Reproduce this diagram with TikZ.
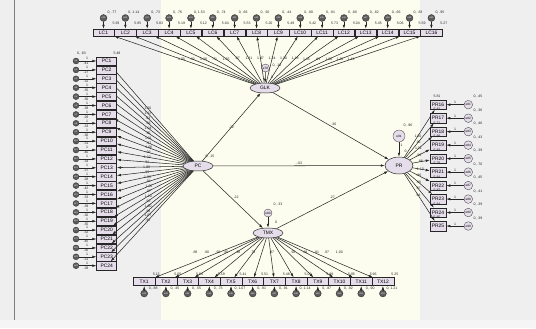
\documentclass[tikz,border=0pt]{standalone}
\usepackage{fontspec}
\setmainfont{Liberation Sans}
\usetikzlibrary{arrows.meta,positioning,calc,shapes.geometric}
\definecolor{cream}{HTML}{FDFDEF}
\definecolor{panel}{HTML}{EFEFEF}
\definecolor{lav}{HTML}{E6DDEB}
\definecolor{ink}{HTML}{262626}
\tikzset{
  obsbox/.style={draw=ink, fill=lav, line width=0.7pt, inner sep=0pt, font=\fontsize{7}{7}\selectfont},
  latent/.style={ellipse, draw=ink, fill=lav, line width=0.7pt, inner sep=0pt, minimum width=15mm, minimum height=5mm, font=\fontsize{7}{7}\selectfont},
  err/.style={circle, draw=ink, fill=ink!75, text=white, inner sep=0pt, minimum size=3.5mm, font=\fontsize{3.2}{3.2}\selectfont},
  errlight/.style={circle, draw=ink, fill=lav, inner sep=0pt, minimum size=4.3mm, font=\fontsize{4.5}{4.5}\selectfont},
  num/.style={inner sep=0pt, text=ink, font=\fontsize{5}{5}\selectfont},
  arrow/.style={-{Latex[length=2mm,width=1.3mm]}, line width=0.75pt, draw=ink},
}

\begin{document}
\begin{tikzpicture}[x=0.5mm, y=-0.5mm]
\useasboundingbox (0,0) rectangle (536,328);
% background panels
\fill[panel] (0,0) rectangle (536,328);
\fill[cream] (161,0) rectangle (420,320);
\fill[gray!8] (0,320) rectangle (536,328);
\draw[gray, line width=1.2pt] (14,0) -- (14,320);

% latent variables
\node[latent] (GLK) at (265,88) {GLK};
\node[latent] (PC) at (198,166) {PC};
\node[latent] (TMX) at (268,233) {TMX};
\node[latent, minimum width=14mm, minimum height=8.5mm] (PR) at (399,165.5) {PR};

% disturbances
\node[errlight, minimum size=4mm] (e78) at (265.5,68) {e78};
\node[errlight, minimum size=4mm] (e80) at (268,213) {e80};
\node[errlight, minimum size=6mm] (e91) at (399,136) {e91};
\draw[arrow] (e78) -- (GLK);
\draw[arrow] (e80) -- (TMX);
\draw[arrow] (e91) -- (PR);
\node[num] at (277,65) {0, .18};
\node[num] at (272,77) {0};
\node[num] at (278,204) {0, .33};
\node[num] at (276,222) {0};
\node[num] at (408,125.5) {0, .96};
\node[num] at (401.5,145.5) {1};
\node[num] at (405.5,151.5) {0};
\node[num] at (210,156.5) {0, .15};

% structural paths
\draw[arrow] (PC) -- node[num, pos=.5] {.22} (GLK);
\draw[arrow] (PC) -- node[num, pos=.5, above=1.5pt] {-.03} (PR);
\draw[arrow] (PC) -- node[num, pos=.5, above right=1pt] {.22} (TMX);
\draw[arrow] (GLK) -- node[num, pos=.5, above right=1pt] {.36} (PR);
\draw[arrow] (TMX) -- node[num, pos=.5, above=1pt] {.27} (PR);

% LC indicators
\foreach \i/\v/\m/\l [count=\k from 0] in {1/.77/5.93/1.00, 2/1.14/5.85/.92, 3/.73/5.83/1.28, 4/.76/5.19/.71,
  5/1.53/5.12/1.35, 6/.74/5.04/.97, 7/.66/5.53/1.31, 8/.92/5.20/1.47, 9/.44/5.49/1.24, 10/.80/5.42/1.30,
  11/.81/5.73/1.18, 12/.80/5.04/1.15, 13/.82/5.45/.93, 14/.66/5.06/1.06, 15/.83/5.59/1.36, 16/.95/5.27/1.42} {
  \pgfmathsetmacro\xx{103.5+21.86*\k}
  \pgfmathtruncatemacro\en{\i+24}
  \node[obsbox, minimum width=10.75mm, minimum height=3.5mm] (lc\i) at (\xx,32.5) {LC\i};
  \node[err] (elc\i) at (\xx,18) {e\en};
  \draw[arrow] (elc\i) -- (lc\i);
  \node[num] at (\xx+8.5,12.5) {0, \v};
  \node[num] at (\xx+12.5,23.5) {\m};
  \draw[arrow] (GLK) -- node[num, pos=.52] {\l} (lc\i);
}

% PC indicators
\node[num] at (81.5,53.3) {0, .83};
\node[num] at (117,53.3) {5.48};
\foreach \i/\v/\l in {1/.41/1.00, 2/.27/1.12, 3/.32/.93, 4/.35/.98, 5/.30/1.04, 6/.38/.95,
  7/.29/1.01, 8/.33/.97, 9/.36/1.06, 10/.31/.99, 11/.40/1.02, 12/.34/.94, 13/.37/1.08, 14/.28/.96,
  15/.42/1.03, 16/.33/.91, 17/.39/1.05, 18/.30/.97, 19/.35/1.10, 20/.32/.92, 21/.45/1.00,
  22/.36/.98, 23/.31/1.07, 24/.38/.95} {
  \pgfmathsetmacro\yy{61+8.9*(\i-1)}
  \node[obsbox, minimum width=10mm, minimum height=4.1mm] (pc\i) at (106.7,\yy) {PC\i};
  \node[err, minimum size=3mm] (epc\i) at (76,\yy) {e\i};
  \draw[arrow] (epc\i) -- (pc\i);
  \node[num] at (86,\yy+2.6) {\v};
  \node[num] at (87,\yy-2.4) {1};
  \draw[arrow] (PC) -- node[num, pos=.55] {\l} (pc\i);
}

% TX indicators
\foreach \i/\v/\m/\l/\lx [count=\k from 0] in {1/.88/5.13/.88/195, 2/.45/5.05/.90/206.7, 3/.55/5.64/.92/218,
  4/.73/5.59/.80/226, 5/1.07/5.41/.98/238, 6/.91/5.51/.78/253, 7/.91/5.48/.97/271.7, 8/1.14/5.09/.92/293,
  9/.87/5.89/.89/305, 10/.92/5.85/.91/316.7, 11/.90/5.96/.97/326.7, 12/1.21/5.25/1.00/339.3} {
  \pgfmathsetmacro\xx{144.2+21.7*\k}
  \pgfmathtruncatemacro\en{\i+40}
  \node[obsbox, minimum width=10.85mm, minimum height=4mm] (tx\i) at (\xx,281.7) {TX\i};
  \node[err] (etx\i) at (\xx,293.5) {e\en};
  \draw[arrow] (etx\i) -- (tx\i);
  \node[num] at (\xx+9,288.5) {0, \v};
  \node[num] at (\xx+12,274) {\m};
  \draw[arrow] (TMX) -- (tx\i);
  \node[num] at (\lx,252) {\l};
}

% PR indicators
\foreach \i/\v/\m/\l [count=\k from 0] in {16/.45/5.81/1.00, 17/.36/5.82/.92, 18/.46/5.71/1.01, 19/.43/5.89/.96,
  20/.39/5.83/.88, 21/.70/5.79/1.10, 22/.45/5.84/.86, 23/.41/5.87/.99, 24/.39/5.84/.87, 25/.39/5.85/.94} {
  \pgfmathsetmacro\yy{104.7+13.48*\k}
  \pgfmathtruncatemacro\en{\k+81}
  \node[obsbox, minimum width=8mm, minimum height=4.75mm] (pr\i) at (438,\yy) {PR\i};
  \node[errlight] (epr\i) at (468.3,\yy) {e\en};
  \draw[arrow] (epr\i) -- node[num, above=1pt] {1} (pr\i);
  \node[num] at (478,\yy-8) {0, \v};
  \node[num] at (437,\yy-8.7) {\m};
  \draw[arrow] (PR) -- node[num, pos=.45] {\l} (pr\i);
}
\end{tikzpicture}
\end{document}
